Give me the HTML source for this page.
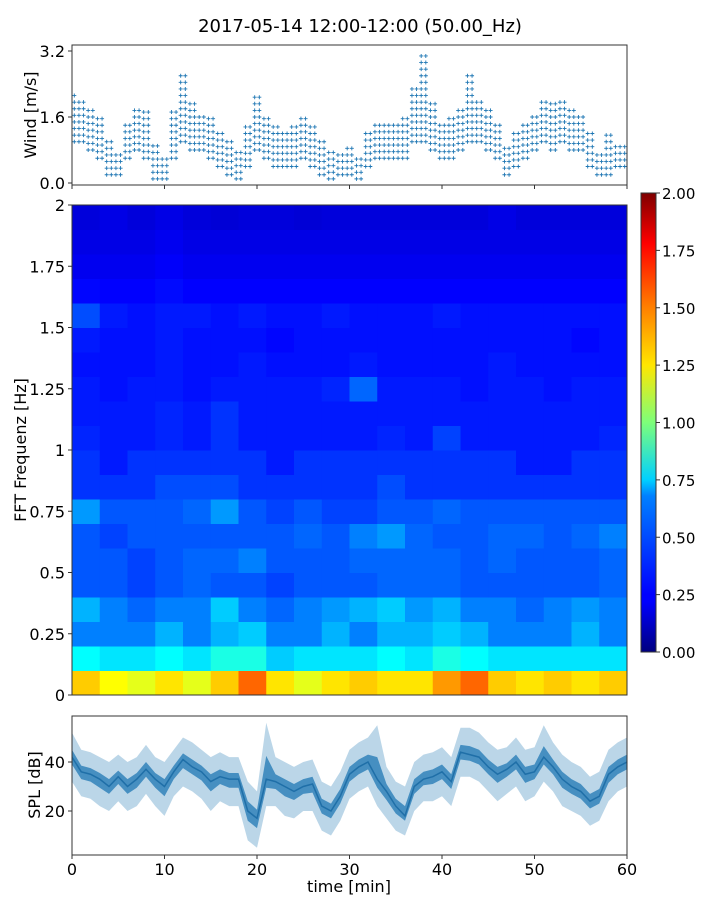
<!DOCTYPE html>
<html><head><meta charset="utf-8"><style>
html,body{margin:0;padding:0;background:#fff}
svg{display:block;font-family:"DejaVu Sans","Liberation Sans",sans-serif}
</style></head><body>
<svg id="fig" width="720" height="900" viewBox="0 0 720 900">
<text x="360" y="32" font-size="18" text-anchor="middle" fill="#000">2017-05-14 12:00-12:00 (50.00_Hz)</text>
<defs>
<linearGradient id="jet" x1="0" y1="1" x2="0" y2="0">
<stop offset="0" stop-color="#00007f"/><stop offset="0.11" stop-color="#0000ff"/><stop offset="0.125" stop-color="#0000ff"/>
<stop offset="0.34" stop-color="#0080ff"/><stop offset="0.375" stop-color="#00d0ff"/><stop offset="0.5" stop-color="#7dff7a"/>
<stop offset="0.625" stop-color="#ffe600"/><stop offset="0.75" stop-color="#ff8000"/><stop offset="0.89" stop-color="#ff0000"/><stop offset="1" stop-color="#7f0000"/>
</linearGradient>
<clipPath id="clipSpl"><rect x="72" y="716" width="555" height="139"/></clipPath>
</defs>
<g id="wind"></g>
<g id="spec"></g>
<g id="cbar"></g>
<g id="spl"></g>
</svg>
<script>
const minutes=[0,1,2,3,4,5,6,7,8,9,10,11,12,13,14,15,16,17,18,19,20,21,22,23,24,25,26,27,28,29,30,31,32,33,34,35,36,37,38,39,40,41,42,43,44,45,46,47,48,49,50,51,52,53,54,55,56,57,58,59,60];
const windLo=[1.0,1.0,0.8,0.6,0.2,0.2,0.6,0.8,0.6,0.1,0.1,0.6,1.0,0.8,0.8,0.6,0.4,0.2,0.1,0.4,0.8,0.6,0.4,0.4,0.4,0.6,0.4,0.2,0.1,0.2,0.2,0.1,0.4,0.6,0.6,0.6,0.6,1.0,1.0,0.8,0.6,0.6,0.8,1.0,1.0,0.8,0.6,0.2,0.4,0.6,0.8,1.0,0.8,1.0,0.8,0.8,0.4,0.2,0.2,0.4,0.4];
const windHi=[2.2,2.0,1.8,1.6,1.0,0.8,1.4,1.8,1.8,0.9,0.6,1.8,2.6,2.0,1.6,1.6,1.2,1.0,0.8,1.4,2.2,1.6,1.4,1.2,1.4,1.6,1.4,1.0,0.8,0.8,0.9,0.7,1.2,1.4,1.4,1.4,1.6,2.4,3.2,2.0,1.4,1.6,1.8,2.6,2.0,1.8,1.4,0.9,1.2,1.4,1.6,2.0,2.0,2.0,1.8,1.6,1.2,0.8,1.2,1.0,1.0];
const windTicks=[0.0,1.6,3.2];
const splMean=[42,36,35,33,30,34,30,33,37,33,30,36,41,38,36,32,34,33,33,20,17,33,32,30,28,30,31,22,20,26,35,38,40,33,28,22,18,30,33,34,36,32,44,43,42,38,35,37,40,35,36,42,38,33,30,28,24,26,35,38,40];
const splLo=[32,26,25,22,20,24,20,22,27,22,18,26,30,28,25,20,24,22,22,8,5,22,22,18,17,20,20,12,10,16,25,28,30,22,17,12,10,20,24,24,26,22,34,34,32,28,24,27,30,24,26,32,28,22,20,18,14,16,24,28,30];
const splHi=[52,45,44,42,40,43,40,42,47,42,40,45,50,48,45,42,44,42,42,32,28,56,42,40,38,40,41,32,30,36,45,48,50,55,38,32,30,40,43,44,46,42,54,54,52,48,45,46,50,45,46,55,48,43,40,38,34,36,45,48,50];
const splTicks=[20,40];
const timeTicks=[0,10,20,30,40,50,60];
const freqTicks=[0,0.25,0.5,0.75,1,1.25,1.5,1.75,2];
const freqTickLabels=["0","0.25","0.5","0.75","1","1.25","1.5","1.75","2"];
const cbarTicks=[0,0.25,0.5,0.75,1,1.25,1.5,1.75,2];
const cbarTickLabels=["0.00","0.25","0.50","0.75","1.00","1.25","1.50","1.75","2.00"];
// spectrogram: rows from 0 Hz upward (0.1 Hz bins), 20 columns of 3 min
const specRows=[
[1.35,1.25,1.2,1.3,1.2,1.35,1.55,1.3,1.2,1.3,1.35,1.3,1.3,1.45,1.55,1.35,1.3,1.35,1.3,1.35],
[0.75,0.7,0.7,0.75,0.7,0.8,0.8,0.65,0.7,0.7,0.7,0.75,0.7,0.8,0.75,0.7,0.7,0.7,0.7,0.7],
[0.5,0.5,0.5,0.6,0.5,0.6,0.65,0.5,0.5,0.6,0.5,0.6,0.6,0.65,0.6,0.5,0.5,0.5,0.6,0.5],
[0.6,0.5,0.45,0.5,0.5,0.65,0.5,0.45,0.5,0.55,0.6,0.65,0.55,0.6,0.5,0.5,0.45,0.5,0.55,0.5],
[0.42,0.42,0.38,0.42,0.45,0.42,0.42,0.38,0.42,0.42,0.42,0.45,0.45,0.45,0.42,0.42,0.42,0.42,0.42,0.45],
[0.42,0.42,0.38,0.42,0.45,0.45,0.5,0.42,0.42,0.42,0.45,0.45,0.45,0.45,0.42,0.45,0.42,0.42,0.42,0.45],
[0.42,0.38,0.42,0.42,0.42,0.42,0.42,0.42,0.45,0.42,0.5,0.55,0.45,0.42,0.42,0.45,0.45,0.42,0.45,0.5],
[0.55,0.42,0.42,0.42,0.45,0.55,0.42,0.38,0.42,0.38,0.38,0.42,0.42,0.45,0.42,0.42,0.42,0.42,0.42,0.42],
[0.35,0.35,0.35,0.4,0.4,0.4,0.35,0.35,0.35,0.35,0.35,0.4,0.35,0.35,0.35,0.35,0.35,0.35,0.35,0.35],
[0.35,0.3,0.35,0.35,0.35,0.35,0.35,0.3,0.35,0.35,0.35,0.35,0.35,0.35,0.35,0.35,0.3,0.3,0.35,0.35],
[0.32,0.3,0.3,0.32,0.3,0.35,0.3,0.3,0.3,0.3,0.3,0.32,0.3,0.38,0.3,0.3,0.3,0.3,0.3,0.32],
[0.3,0.3,0.3,0.32,0.3,0.35,0.3,0.3,0.3,0.3,0.3,0.3,0.3,0.3,0.3,0.3,0.3,0.3,0.3,0.3],
[0.3,0.28,0.3,0.3,0.28,0.3,0.3,0.3,0.3,0.32,0.45,0.3,0.3,0.3,0.28,0.3,0.3,0.28,0.3,0.3],
[0.28,0.28,0.28,0.3,0.28,0.28,0.3,0.28,0.28,0.28,0.3,0.28,0.28,0.28,0.28,0.3,0.28,0.28,0.28,0.28],
[0.3,0.28,0.28,0.3,0.28,0.28,0.28,0.26,0.28,0.28,0.28,0.28,0.28,0.28,0.28,0.28,0.28,0.28,0.26,0.28],
[0.4,0.3,0.28,0.3,0.3,0.28,0.3,0.28,0.28,0.3,0.28,0.28,0.28,0.3,0.28,0.28,0.28,0.28,0.28,0.28],
[0.26,0.25,0.25,0.27,0.25,0.25,0.25,0.25,0.25,0.25,0.25,0.25,0.25,0.25,0.25,0.25,0.25,0.25,0.25,0.25],
[0.22,0.22,0.22,0.24,0.22,0.22,0.22,0.22,0.22,0.22,0.22,0.22,0.22,0.22,0.22,0.22,0.22,0.22,0.22,0.22],
[0.2,0.2,0.2,0.22,0.2,0.2,0.2,0.2,0.2,0.2,0.2,0.2,0.2,0.2,0.2,0.2,0.2,0.2,0.2,0.2],
[0.18,0.2,0.18,0.2,0.18,0.17,0.18,0.18,0.17,0.18,0.18,0.18,0.18,0.18,0.18,0.2,0.18,0.18,0.18,0.18]];

const NS="http://www.w3.org/2000/svg";
function mk(p,tag,attrs,txt){const e=document.createElementNS(NS,tag);for(const k in attrs)e.setAttribute(k,attrs[k]);if(txt!==undefined)e.textContent=txt;p.appendChild(e);return e;}
const X0=72,X1=627;
const xs=t=>X0+(t/60)*(X1-X0);
const yWind=v=>183-(v/3.2)*132;
const yFreq=f=>695-(f/2)*490;
const ySpl=v=>860-v*2.45;
const yCb=v=>652-(v/2)*459;
function jet(v){let x=Math.max(0,Math.min(1,v/2));
 const c=t=>Math.max(0,Math.min(1,t));
 const r=c(Math.min(4*x-1.5,-4*x+4.5)),g=c(Math.min(4*x-0.5,-4*x+3.5)),b=c(Math.min(4*x+0.5,-4*x+2.5));
 return `rgb(${Math.round(r*255)},${Math.round(g*255)},${Math.round(b*255)})`;}

// wind panel
const W=document.getElementById('wind');
for(let i=0;i<minutes.length;i++){
 for(let v=windLo[i];v<=windHi[i]+1e-6;v+=0.16){
  for(const dt of [-0.25,0.25]){
   const t=minutes[i]+dt; if(t<0||t>60)continue;
   const x=xs(t),y=yWind(v);
   const m=mk(W,'path',{d:`M${x-2},${y}H${x+2}M${x},${y-2}V${y+2}`,stroke:'#1f77b4','stroke-width':0.9});
   
   
  }
 }
}
mk(W,'rect',{x:X0,y:45,width:X1-X0,height:140,fill:'none',stroke:'#333','stroke-width':1});
windTicks.forEach(v=>{const y=yWind(v);mk(W,'line',{x1:X0-4,x2:X0,y1:y,y2:y,stroke:'#333'});
 const t=mk(W,'text',{x:X0-7,y:y+6,'font-size':16,'text-anchor':'end'},v.toFixed(1));});
timeTicks.forEach(v=>mk(W,'line',{x1:xs(v),x2:xs(v),y1:185,y2:189,stroke:'#333'}));
mk(W,'text',{x:36,y:115,'font-size':16,'text-anchor':'middle',transform:'rotate(-90 36 115)',},'Wind [m/s]');

// spectrogram
const S=document.getElementById('spec');
const nCols=specRows[0].length;
specRows.forEach((row,ri)=>{row.forEach((v,ci)=>{
 const x0=xs(ci*60/nCols),x1=xs((ci+1)*60/nCols),y0=yFreq((ri+1)*0.1),y1=yFreq(ri*0.1);
 const r=mk(S,'rect',{x:x0,y:y0,width:x1-x0+0.5,height:y1-y0+0.5,fill:jet(v)});
 
 
});});
mk(S,'rect',{x:X0,y:205,width:X1-X0,height:490,fill:'none',stroke:'#333'});
freqTicks.forEach((f,i)=>{const y=yFreq(f);mk(S,'line',{x1:X0-4,x2:X0,y1:y,y2:y,stroke:'#333'});
 const t=mk(S,'text',{x:X0-7,y:y+6,'font-size':16,'text-anchor':'end'},freqTickLabels[i]);});
mk(S,'text',{x:26,y:450,'font-size':16,'text-anchor':'middle',transform:'rotate(-90 26 450)',},'FFT Frequenz [Hz]');

// colorbar
const C=document.getElementById('cbar');
mk(C,'rect',{x:641,y:193,width:15,height:459,fill:'url(#jet)',stroke:'#333'});
cbarTicks.forEach((v,i)=>{const y=yCb(v);mk(C,'line',{x1:656,x2:660,y1:y,y2:y,stroke:'#333'});
 const t=mk(C,'text',{x:662,y:y+6,'font-size':15},cbarTickLabels[i]);});

// SPL
const P=document.getElementById('spl');
const g=mk(P,'g',{'clip-path':'url(#clipSpl)'});
let band='M'+minutes.map((t,i)=>`${xs(t)},${ySpl(splHi[i])}`).join('L')+'L'+minutes.map((t,i)=>`${xs(t)},${ySpl(splLo[i])}`).reverse().join('L')+'Z';
mk(g,'path',{d:band,fill:'#1f77b4','fill-opacity':0.3,});
let inner='M'+minutes.map((t,i)=>`${xs(t)},${ySpl((splHi[i]+splMean[i])/2-2)}`).join('L')+'L'+minutes.map((t,i)=>`${xs(t)},${ySpl((splLo[i]+splMean[i])/2+2)}`).reverse().join('L')+'Z';
mk(g,'path',{d:inner,fill:'#1f77b4','fill-opacity':0.75,});
mk(g,'path',{d:'M'+minutes.map((t,i)=>`${xs(t)},${ySpl(splMean[i])}`).join('L'),fill:'none',stroke:'#1f6fa8','stroke-width':1.5,});
mk(P,'rect',{x:X0,y:716,width:X1-X0,height:139,fill:'none',stroke:'#333'});
splTicks.forEach(v=>{const y=ySpl(v);mk(P,'line',{x1:X0-4,x2:X0,y1:y,y2:y,stroke:'#333'});
 const t=mk(P,'text',{x:X0-7,y:y+6,'font-size':16,'text-anchor':'end'},String(v));});
timeTicks.forEach(v=>{mk(P,'line',{x1:xs(v),x2:xs(v),y1:855,y2:859,stroke:'#333'});
 const t=mk(P,'text',{x:xs(v),y:875,'font-size':16,'text-anchor':'middle'},String(v));});
mk(P,'text',{x:40,y:785,'font-size':16,'text-anchor':'middle',transform:'rotate(-90 40 785)',},'SPL [dB]');
mk(P,'text',{x:349,y:892,'font-size':16,'text-anchor':'middle',},'time [min]');
</script>
</body></html>
